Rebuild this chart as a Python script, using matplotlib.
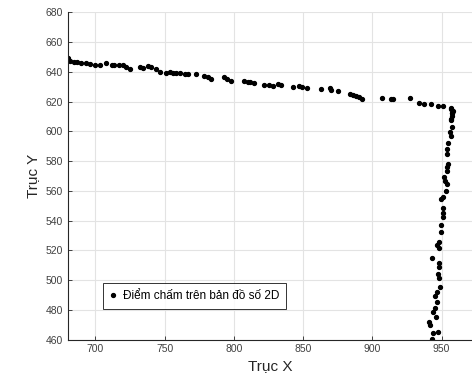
import numpy as np
import matplotlib
matplotlib.use('Agg')
import matplotlib.pyplot as plt

# toa do cac diem cham (nhanh ngang)
x_ngang = [680.4, 682.0, 684.4, 686.8, 689.9, 693.5, 696.0, 700.0, 703.2, 707.9,
           712.0, 713.5, 716.9, 720.0, 722.4, 725.3, 732.0, 734.4, 738.0, 740.4,
           744.0, 746.5, 751.2, 753.7, 755.8, 758.2, 761.1, 764.7, 767.1, 772.7,
           778.6, 781.1, 783.5, 792.6, 795.0, 797.9, 807.1, 810.0, 811.8, 814.7,
           821.9, 825.5, 828.0, 831.6, 834.0, 842.9, 847.2, 849.1, 852.7, 862.8,
           869.3, 870.5, 874.9, 883.8, 886.1, 888.1, 890.5, 892.9, 906.9, 913.3,
           915.3, 927.1, 933.8, 937.4, 942.7, 947.5, 951.1, 957.1]
y_ngang = [649.1, 647.2, 646.8, 646.4, 646.1, 645.7, 645.0, 644.8, 644.8, 645.7,
           644.8, 644.4, 644.8, 644.4, 643.4, 641.9, 643.0, 642.3, 643.9, 643.0,
           641.9, 640.1, 639.0, 639.7, 639.4, 639.0, 639.0, 638.5, 638.3, 638.5,
           637.2, 636.3, 635.1, 636.3, 635.1, 634.0, 634.0, 632.9, 632.9, 632.7,
           631.1, 631.1, 630.6, 631.8, 631.1, 629.6, 630.6, 630.0, 629.3, 628.4,
           628.9, 627.7, 627.1, 625.1, 624.4, 623.9, 622.8, 621.7, 622.6, 621.7,
           621.7, 622.2, 618.8, 618.1, 618.1, 617.0, 617.0, 615.8]

# toa do cac diem cham (nhanh doc)
x_doc = [958.1, 957.6, 956.6, 956.8, 957.3, 957.8, 956.8, 957.3, 956.1, 956.6,
         954.9, 953.7, 953.7, 954.7, 954.2, 953.7, 951.8, 952.3, 953.7, 953.2,
         951.3, 949.9, 951.3, 951.3, 951.3, 949.4, 949.4, 948.4, 947.0, 948.2,
         943.2, 948.4, 948.0, 947.7, 948.2, 948.9, 947.0, 945.5, 946.5, 945.3,
         944.1, 945.8, 941.2, 941.7, 944.1, 947.7, 942.9]
y_doc = [613.6, 612.1, 608.2, 614.8, 612.5, 610.3, 607.6, 603.1, 599.3, 597.0,
         591.9, 587.9, 584.7, 578.0, 575.8, 573.5, 569.0, 566.8, 564.5, 560.0,
         556.0, 554.2, 548.2, 544.8, 542.1, 537.0, 532.5, 525.3, 523.5, 521.3,
         515.0, 511.2, 508.9, 503.8, 501.5, 495.5, 492.1, 489.4, 485.0, 481.3,
         478.7, 475.3, 471.9, 469.7, 464.1, 464.8, 460.3]

x_ticks = [700, 750, 800, 850, 900, 950]
y_ticks = list(range(460, 681, 20))

plt.rcParams['font.family'] = ['Liberation Sans', 'DejaVu Sans']

fig = plt.figure(figsize=(4.72, 3.87), dpi=100)
ax = fig.add_axes([0.1434, 0.1227, 0.8566, 0.8455])

x = np.array(x_ngang + x_doc)
y = np.array(y_ngang + y_doc)
ax.plot(x, y, 'o', color='black', markersize=2.8, linestyle='none',
        label='Điểm chấm trên bản đồ số 2D', clip_on=True)

ax.set_xlim(680, 972)
ax.set_ylim(460, 680)
ax.set_xticks(x_ticks)
ax.set_yticks(y_ticks)

ax.grid(True, color='#e3e3e3', linewidth=0.8)
ax.set_axisbelow(True)
for side in ['top', 'right']:
    ax.spines[side].set_visible(False)
for side in ['left', 'bottom']:
    ax.spines[side].set_color('#262626')
    ax.spines[side].set_linewidth(0.8)

ax.tick_params(direction='in', length=3, width=0.6, colors='#262626',
               labelsize=7.5, labelcolor='#404040')
ax.set_xlabel('Trục X', fontsize=11, color='#262626', labelpad=3)
ax.set_ylabel('Trục Y', fontsize=11, color='#262626', labelpad=4)

leg = ax.legend(loc='lower left', bbox_to_anchor=(0.087, 0.093),
                fontsize=8.5, frameon=True, fancybox=False,
                handlelength=0.6, handletextpad=0.5, borderpad=0.6,
                borderaxespad=0)
leg.get_frame().set_edgecolor('black')
leg.get_frame().set_linewidth(0.7)

fig.savefig('out.png', dpi=100)
